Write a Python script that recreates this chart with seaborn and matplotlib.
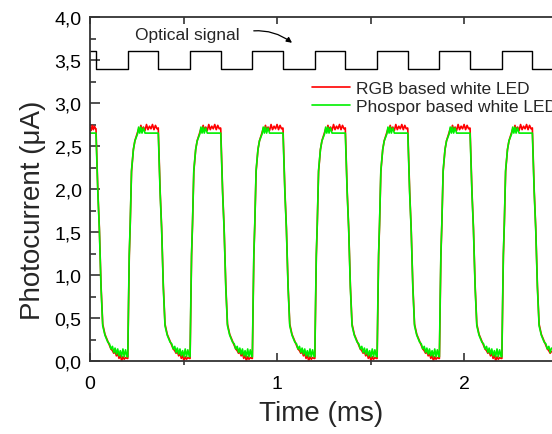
import numpy as np
import pandas as pd
import matplotlib
matplotlib.use('Agg')
import matplotlib.pyplot as plt
from matplotlib.ticker import MultipleLocator, FuncFormatter
import seaborn as sns

# optical square wave (ms)
optical_fall_ms = [0.032, 0.365, 0.699, 1.032, 1.365, 1.699, 2.032, 2.365]
optical_rise_ms = [0.202, 0.535, 0.868, 1.202, 1.535, 1.868, 2.202]
optical_low = 3.4
optical_high = 3.6
t_end = 2.47

# photocurrent before first falling edge
head_dt = [0.0, 0.006, 0.012, 0.018, 0.024, 0.030]
head_rgb = [2.72, 2.68, 2.74, 2.69, 2.73, 2.70]
head_pho = [2.65, 2.65, 2.65, 2.65, 2.65, 2.65]

# photocurrent after each falling edge (offset in ms, value in uA)
fall_dt = [0.0, 0.004, 0.010, 0.018, 0.027, 0.036, 0.048, 0.063, 0.072, 0.080,
           0.088, 0.095, 0.102, 0.109, 0.116, 0.123, 0.130, 0.137, 0.144, 0.151,
           0.158, 0.166]
fall_rgb = [2.70, 2.40, 1.98, 1.55, 0.88, 0.43, 0.31, 0.23, 0.18, 0.14,
            0.12, 0.09, 0.11, 0.06, 0.09, 0.03, 0.07, 0.00, 0.05, 0.02,
            0.04, 0.03]
fall_pho = [2.65, 2.36, 1.95, 1.53, 0.85, 0.41, 0.30, 0.22, 0.20, 0.14,
            0.17, 0.10, 0.15, 0.08, 0.14, 0.06, 0.12, 0.05, 0.14, 0.05,
            0.13, 0.05]

# photocurrent after each rising edge
rise_dt = [0.0, 0.004, 0.008, 0.013, 0.020, 0.030, 0.038, 0.045, 0.052, 0.058,
           0.064, 0.070, 0.076, 0.084, 0.092, 0.100, 0.108, 0.116, 0.124, 0.132,
           0.140, 0.148, 0.156, 0.163]
rise_rgb = [0.03, 0.65, 1.22, 1.58, 2.20, 2.46, 2.56, 2.61, 2.66, 2.70,
            2.68, 2.74, 2.69, 2.72, 2.68, 2.75, 2.69, 2.73, 2.70, 2.75,
            2.69, 2.74, 2.70, 2.71]
rise_pho = [0.05, 0.70, 1.25, 1.60, 2.22, 2.46, 2.56, 2.60, 2.64, 2.72,
            2.65, 2.72, 2.65, 2.71, 2.65, 2.65, 2.65, 2.65, 2.65, 2.65,
            2.65, 2.65, 2.65, 2.65]

# build square wave
sq_t = [0.0]
sq_y = [optical_high]
edges = sorted([(t, optical_low) for t in optical_fall_ms] + [(t, optical_high) for t in optical_rise_ms])
for t, level in edges:
    sq_t += [t, t]
    sq_y += [sq_y[-1], level]
sq_t.append(t_end)
sq_y.append(sq_y[-1])

# build photocurrent traces
pc_t = list(head_dt)
pc_rgb = list(head_rgb)
pc_pho = list(head_pho)
events = sorted([(t, 'f') for t in optical_fall_ms] + [(t, 'r') for t in optical_rise_ms])
for t0, kind in events:
    if kind == 'f':
        dts, r, p = fall_dt, fall_rgb, fall_pho
    else:
        dts, r, p = rise_dt, rise_rgb, rise_pho
    pc_t += [t0 + d for d in dts]
    pc_rgb += r
    pc_pho += p

df = pd.DataFrame({'t': pc_t, 'rgb': pc_rgb, 'pho': pc_pho})
df = df[df['t'] <= t_end]
sq = pd.DataFrame({'t': sq_t, 'y': sq_y})

sns.set_style('ticks')
plt.rcParams['font.family'] = ['Liberation Sans', 'DejaVu Sans']

fig = plt.figure(figsize=(5.52, 4.35), dpi=100)
ax = fig.add_axes([90 / 552, 73 / 435, 462 / 552, 344 / 435])

sns.lineplot(data=sq, x='t', y='y', ax=ax, color='black', linewidth=1.0,
             estimator=None, sort=False)
sns.lineplot(data=df, x='t', y='rgb', ax=ax, color='#ff0000', linewidth=1.2,
             estimator=None, sort=False, label='RGB based white LED')
sns.lineplot(data=df, x='t', y='pho', ax=ax, color='#00f000', linewidth=1.2,
             estimator=None, sort=False, label='Phospor based white LED')

ax.set_xlim(0, t_end)
ax.set_ylim(0, 4.0)
ax.xaxis.set_major_locator(MultipleLocator(1))
ax.xaxis.set_minor_locator(MultipleLocator(0.5))
ax.yaxis.set_major_locator(MultipleLocator(0.5))
ax.yaxis.set_minor_locator(MultipleLocator(0.25))
ax.yaxis.set_major_formatter(FuncFormatter(lambda v, p: f'{v:.1f}'.replace('.', ',')))
ax.xaxis.set_major_formatter(FuncFormatter(lambda v, p: f'{v:g}'))

ax.spines['right'].set_visible(False)
for s in ['left', 'bottom', 'top']:
    ax.spines[s].set_linewidth(1.3)
    ax.spines[s].set_color('#333333')

ax.tick_params(axis='y', which='major', direction='in', length=7, width=1.2,
               labelsize=14, pad=6, colors='#333333', labelcolor='black')
ax.tick_params(axis='y', which='minor', direction='in', length=4, width=1.2, colors='#333333')
ax.tick_params(axis='x', which='major', direction='in', length=6, width=1.2,
               labelsize=14, pad=10, colors='#333333', labelcolor='black')
ax.tick_params(axis='x', which='minor', direction='out', length=3, width=1.2, colors='#333333')

top = ax.secondary_xaxis('top')
top.xaxis.set_major_locator(MultipleLocator(0.5))
top.tick_params(axis='x', direction='in', length=5, width=1.2, labeltop=False, colors='#333333')
top.spines['top'].set_visible(False)

ax.set_xlabel('Time (ms)', fontsize=20, labelpad=6)
ax.set_ylabel('Photocurrent (μA)', fontsize=20)
ax.yaxis.set_label_coords(-0.095, 0.44)

ax.annotate('Optical signal', xy=(1.08, 3.70), xytext=(0.24, 3.80),
            fontsize=12.5, va='center',
            arrowprops=dict(arrowstyle='-|>', color='black', lw=0.9, mutation_scale=8,
                            connectionstyle='arc3,rad=-0.25',
                            shrinkA=8, shrinkB=0,
                            relpos=(1.0, 0.55)))

ax.legend(loc='upper left', bbox_to_anchor=(0.48, 0.815), frameon=False,
          fontsize=12.5, handlelength=2.2, handletextpad=0.35, borderaxespad=0,
          borderpad=0, labelspacing=0.2)

fig.savefig('out.png', dpi=100)
